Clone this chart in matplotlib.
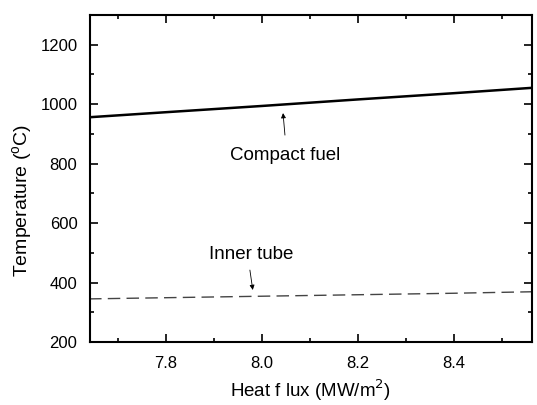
import matplotlib
matplotlib.use("Agg")
import matplotlib.pyplot as plt
from matplotlib.ticker import MultipleLocator

plt.rcParams['font.family'] = ['Liberation Sans', 'DejaVu Sans']

heat_flux = [7.64, 7.8, 8.0, 8.2, 8.4, 8.5625]
compact_fuel = [956, 973, 994, 1016, 1037, 1055]
inner_tube = [345, 349, 354, 359, 364, 369]

fig = plt.figure(figsize=(5.37, 4.05), dpi=100)
ax = fig.add_axes([90/537, 1-342/405, 442/537, 327/405])

ax.plot(heat_flux, compact_fuel, color='black', lw=1.8)
ax.plot(heat_flux, inner_tube, color='#444444', lw=1.0, dashes=(9, 4.5))

ax.set_xlim(7.642, 8.5625)
ax.set_ylim(200, 1300)
ax.xaxis.set_major_locator(MultipleLocator(0.2))
ax.xaxis.set_minor_locator(MultipleLocator(0.1))
ax.set_yticks([200, 400, 600, 800, 1000, 1200])
ax.yaxis.set_minor_locator(MultipleLocator(100))
ax.tick_params(which='both', direction='in', top=True, right=True, labelsize=12, width=1.2)
ax.tick_params(which='major', length=6)
ax.tick_params(which='minor', length=3)
ax.tick_params(axis='y', which='major', pad=9)
ax.tick_params(axis='x', which='major', pad=10)
for s in ax.spines.values():
    s.set_linewidth(1.5)

ax.set_xlabel('Heat f lux (MW/m$^2$)', fontsize=13.5)
ax.set_ylabel('Temperature ($^{\\mathregular{o}}$C)', fontsize=14)
ax.xaxis.set_label_coords(0.5, -0.108)
ax.yaxis.set_label_coords(-0.124, 0.434)

ax.text(8.048, 826, 'Compact fuel', fontsize=13.5, ha='center', va='center')
ax.annotate('', xy=(8.044, 970), xytext=(8.048, 896),
            arrowprops=dict(arrowstyle='-|>', color='black', lw=0.6, mutation_scale=7, shrinkA=0, shrinkB=0))
ax.text(7.977, 496, 'Inner tube', fontsize=13.5, ha='center', va='center')
ax.annotate('', xy=(7.981, 375), xytext=(7.975, 442),
            arrowprops=dict(arrowstyle='-|>', color='black', lw=0.6, mutation_scale=7, shrinkA=0, shrinkB=0))

fig.savefig('out.png', dpi=100)
